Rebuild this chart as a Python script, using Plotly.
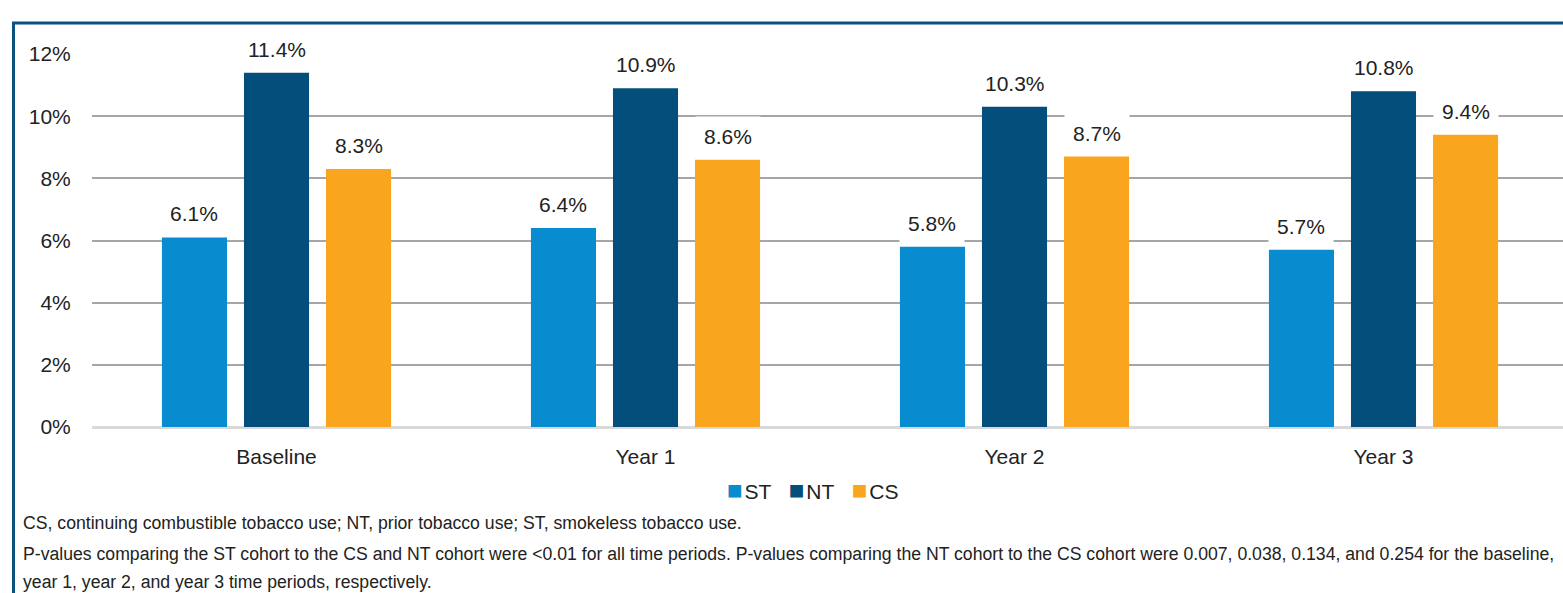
import plotly.graph_objects as go

# Prevalence by cohort and time period (%)
periods = ["Baseline", "Year 1", "Year 2", "Year 3"]
st_vals = [6.1, 6.4, 5.8, 5.7]
nt_vals = [11.4, 10.9, 10.3, 10.8]
cs_vals = [8.3, 8.6, 8.7, 9.4]
series_names = ["ST", "NT", "CS"]
series_colors = ["#088BCF", "#034E7B", "#F9A51E"]
y_ticks = [0, 2, 4, 6, 8, 10, 12]
y_tick_labels = ["0%", "2%", "4%", "6%", "8%", "10%", "12%"]

footnote_1 = "CS, continuing combustible tobacco use; NT, prior tobacco use; ST, smokeless tobacco use."
footnote_2 = ("P-values comparing the ST cohort to the CS and NT cohort were <0.01 for all time periods. "
              "P-values comparing the NT cohort to the CS cohort were 0.007, 0.038, 0.134, and 0.254 for the baseline,")
footnote_3 = "year 1, year 2, and year 3 time periods, respectively."

FONT = "Liberation Sans, Arial, sans-serif"
TEXT = "#222222"
W, H = 1563, 593
L, R, T, B = 92, 0, 54, 166
BARGAP, GROUPGAP = 0.333, 0.207

plot_w = W - L - R
plot_h = H - T - B
cat_px = 369.0  # pixel width of one category band
x_max = -0.5 + plot_w / cat_px


def px_x(px):
    return (px - L) / plot_w


def px_y(py):
    return (H - B - py) / plot_h


fig = go.Figure()
all_vals = [st_vals, nt_vals, cs_vals]
for name, vals, color in zip(series_names, all_vals, series_colors):
    fig.add_trace(go.Bar(
        name=name, x=list(range(len(periods))), y=vals,
        marker=dict(color=color, line=dict(width=0)),
        hoverinfo="x+y", showlegend=False,
    ))

# value labels on a white box above each bar
slot = (1 - BARGAP) / len(series_names)
annotations = []
for j, vals in enumerate(all_vals):
    offset = (j - (len(series_names) - 1) / 2) * slot
    for i, v in enumerate(vals):
        annotations.append(dict(
            x=i + offset, y=v, xref="x", yref="y",
            text=f"{v:.1f}%", showarrow=False,
            yanchor="bottom", yshift=3,
            bgcolor="white", borderpad=8,
            font=dict(family=FONT, size=21, color=TEXT),
        ))

# compact legend: coloured square followed by the series name
legend_text = "&nbsp;&nbsp;&nbsp;".join(
    f"<span style='color:{c};font-size:26px'>■</span>&#8202;{n}"
    for n, c in zip(series_names, series_colors)
)
annotations.append(dict(
    x=px_x(812), y=px_y(490), xref="paper", yref="paper",
    text=legend_text, showarrow=False, xanchor="center", yanchor="middle",
    font=dict(family=FONT, size=21, color=TEXT),
))

# footnotes
for txt, py in [(footnote_1, 523), (footnote_2, 554), (footnote_3, 582)]:
    annotations.append(dict(
        x=px_x(21), y=px_y(py), xref="paper", yref="paper",
        text=txt, showarrow=False, xanchor="left", yanchor="middle",
        font=dict(family=FONT, size=17.65, color=TEXT),
    ))

# frame around the figure (left and top edges)
frame_color = "#0B5283"
shapes = [
    dict(type="line", xref="paper", yref="paper",
         x0=px_x(13.5), x1=px_x(13.5), y0=px_y(H + 5), y1=px_y(23),
         line=dict(color=frame_color, width=3)),
    dict(type="line", xref="paper", yref="paper",
         x0=px_x(12), x1=px_x(W + 5), y0=px_y(23), y1=px_y(23),
         line=dict(color=frame_color, width=3)),
]

fig.update_layout(
    width=W, height=H,
    margin=dict(l=L, r=R, t=T, b=B, pad=0),
    paper_bgcolor="white", plot_bgcolor="white",
    barmode="group", bargap=BARGAP, bargroupgap=GROUPGAP,
    font=dict(family=FONT, size=21, color=TEXT),
    showlegend=False,
    xaxis=dict(
        range=[-0.5, x_max], tickmode="array",
        tickvals=list(range(len(periods))), ticktext=periods,
        showgrid=False, zeroline=False, showline=False,
        ticks="outside", ticklen=11, tickcolor="rgba(0,0,0,0)",
        tickfont=dict(family=FONT, size=21, color=TEXT),
        fixedrange=True,
    ),
    yaxis=dict(
        range=[0, 12], tickmode="array", tickvals=y_ticks, ticktext=y_tick_labels,
        showgrid=True, gridcolor="#A6A6A6", gridwidth=2,
        zeroline=True, zerolinecolor="#D9D9D9", zerolinewidth=3,
        showline=False, ticks="outside", ticklen=16, tickcolor="rgba(0,0,0,0)",
        tickfont=dict(family=FONT, size=21, color=TEXT),
        fixedrange=True,
    ),
    annotations=annotations,
    shapes=shapes,
)

fig.write_html("out.html", config={"displayModeBar": False})
